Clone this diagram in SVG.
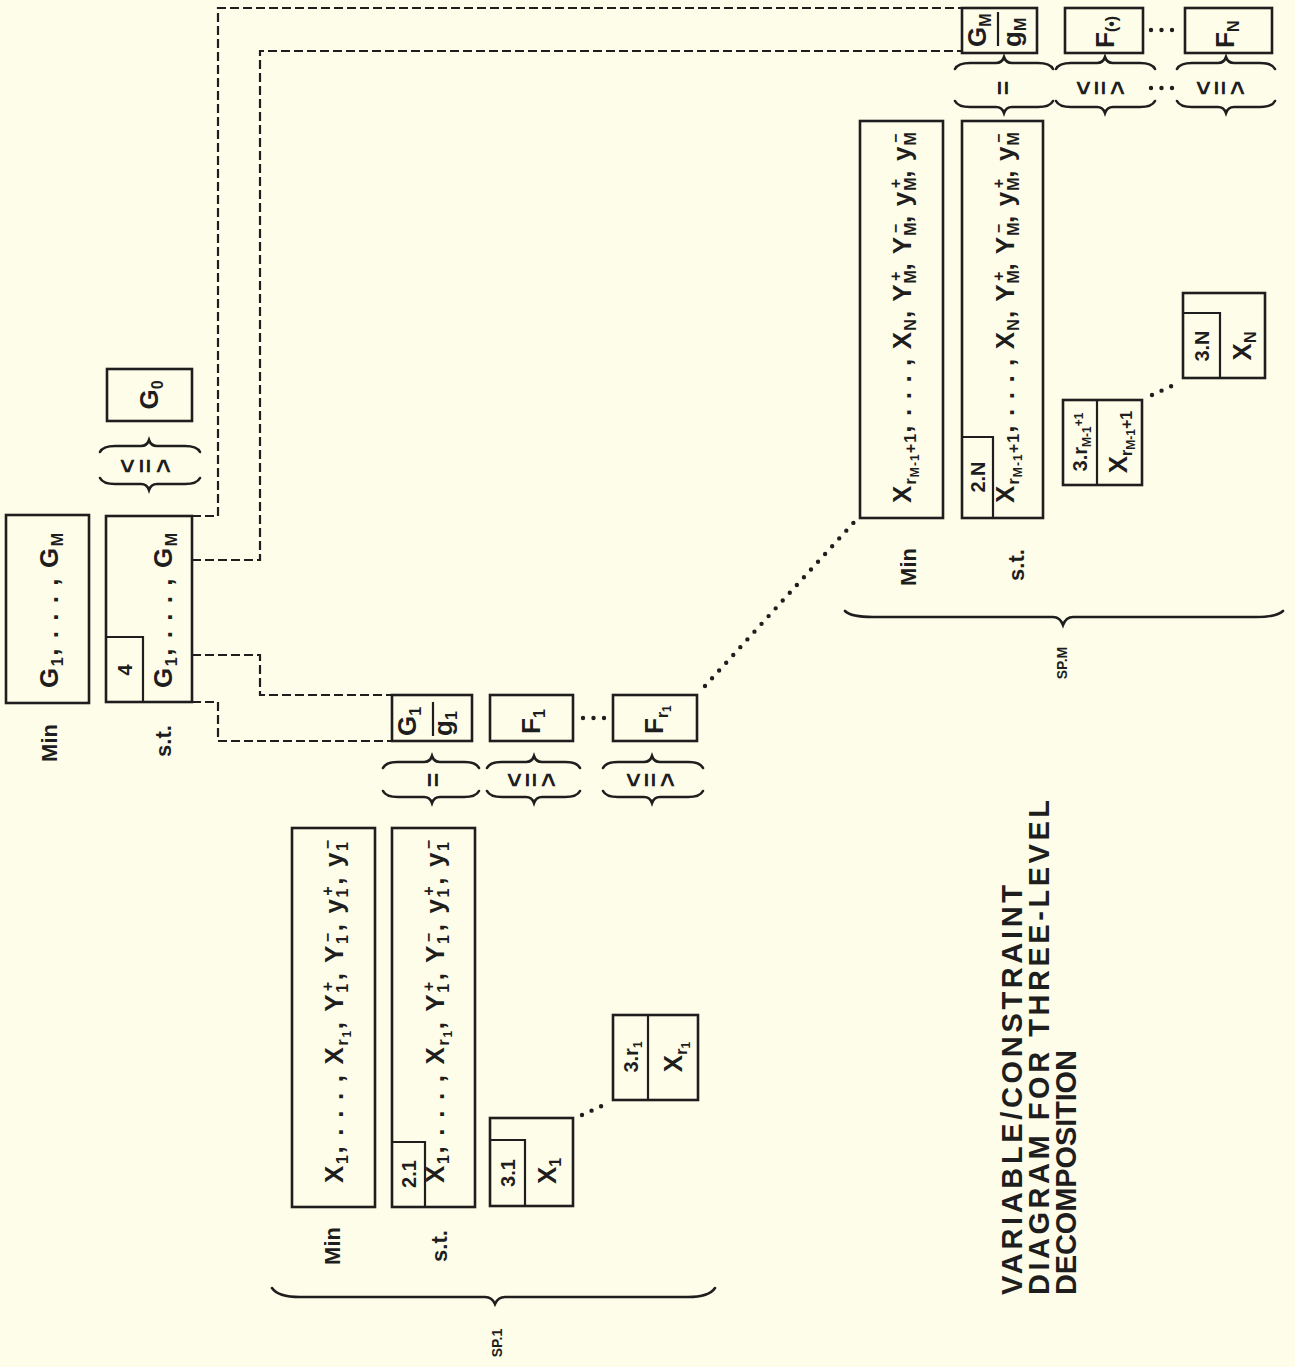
<svg xmlns="http://www.w3.org/2000/svg" width="1295" height="1367" viewBox="0 0 1295 1367">
<style>
.bx{fill:none;stroke:#1e1e1e;stroke-width:2.6}
.ln{fill:none;stroke:#1e1e1e;stroke-width:2.2}
.br{fill:none;stroke:#1e1e1e;stroke-width:2.6;stroke-linecap:round}
.dash{fill:none;stroke:#1e1e1e;stroke-width:2.2;stroke-dasharray:9 4}
.dot{fill:none;stroke:#1e1e1e;stroke-width:4.4;stroke-linecap:round;stroke-dasharray:0 10.5}
.t{font-family:"Liberation Sans",Arial,sans-serif;font-weight:bold;fill:#1e1e1e}
.v{font-size:26px}
.s{font-size:16px}
.ss{font-size:12px}
.lab{font-size:20px}
.kw{font-size:22px}
.sp{font-size:14px}
.sym{font-size:25px}
.title{font-size:29px}
</style>
<rect width="1295" height="1367" fill="#fefde9"/>

<g id="connectors">
<path class="dash" d="M192,516 H218 V8 H962"/>
<path class="dash" d="M192,560 H260 V51 H962"/>
<path class="dash" d="M192,655 H260 V695 H392"/>
<path class="dash" d="M192,702 H218 V741 H392"/>
<path class="dot" d="M705,686 L856,520"/>
<path class="dot" d="M582,1115 L606,1104"/>
<path class="dot" d="M1152,395 L1176,384"/>
<path class="dot" d="M583,718 L608,718"/>
<path class="dot" d="M1151,30 L1177,30"/>
<path class="dot" d="M1151,88 L1173,88"/>
</g>

<g id="master-min">
<rect class="bx" x="6" y="515" width="83" height="188"/>
<text class="t v" transform="translate(58,688) rotate(-90)" textLength="155">G<tspan class="s" dy="5">1</tspan><tspan dy="-5">, . . . , G</tspan><tspan class="s" dy="5">M</tspan></text>
<text class="t kw" transform="translate(57,743) rotate(-90)" text-anchor="middle">Min</text>
</g>

<g id="master-st">
<rect class="bx" x="106" y="516" width="86" height="186"/>
<path class="ln" d="M106,637 H143 V702"/>
<text class="t lab" transform="translate(132,670) rotate(-90)" text-anchor="middle">4</text>
<text class="t v" transform="translate(172,688) rotate(-90)" textLength="155">G<tspan class="s" dy="5">1</tspan><tspan dy="-5">, . . . , G</tspan><tspan class="s" dy="5">M</tspan></text>
<text class="t kw" transform="translate(171,741) rotate(-90)" text-anchor="middle">s.t.</text>
</g>

<g id="G0">
<rect class="bx" x="107" y="369" width="85" height="52"/>
<text class="t v" transform="translate(158,395) rotate(-90)" text-anchor="middle">G<tspan class="s" dy="5">0</tspan></text>
<path class="br" d="M100,452 Q103,446 115,446 L141,446 Q147,446 149,440 Q151,446 157,446 L185,446 Q197,446 200,452"/>
<text class="t sym" transform="translate(136,466) rotate(-90)" text-anchor="middle"><tspan x="0" y="0">&lt;</tspan><tspan x="0" y="18">=</tspan><tspan x="0" y="36">&gt;</tspan></text>
<path class="br" d="M100,478 Q103,484 115,484 L141,484 Q147,484 149,490 Q151,484 157,484 L185,484 Q197,484 200,478"/>
</g>

<g id="G1g1">
<rect class="bx" x="392" y="695" width="80" height="46"/>
<text class="t v" transform="translate(416,736) rotate(-90)">G<tspan class="s" dy="5">1</tspan></text>
<path class="ln" d="M433,702 V736"/>
<text class="t v" transform="translate(452,736) rotate(-90)">g<tspan class="s" dy="5">1</tspan></text>
<path class="br" d="M383,768 Q386,762 398,762 L424,762 Q430,762 432,756 Q434,762 440,762 L464,762 Q476,762 479,768"/>
<text class="t sym" transform="translate(442,780) rotate(-90)" text-anchor="middle">=</text>
<path class="br" d="M383,791 Q386,797 398,797 L424,797 Q430,797 432,803 Q434,797 440,797 L464,797 Q476,797 479,791"/>
</g>

<g id="F1">
<rect class="bx" x="490" y="695" width="83" height="46"/>
<text class="t v" transform="translate(540,734) rotate(-90)">F<tspan class="s" dy="5">1</tspan></text>
<path class="br" d="M487,768 Q490,762 502,762 L526,762 Q532,762 534,756 Q536,762 542,762 L565,762 Q577,762 580,768"/>
<text class="t sym" transform="translate(523,780) rotate(-90)" text-anchor="middle"><tspan x="0" y="0">&lt;</tspan><tspan x="0" y="17">=</tspan><tspan x="0" y="34">&gt;</tspan></text>
<path class="br" d="M487,791 Q490,797 502,797 L526,797 Q532,797 534,803 Q536,797 542,797 L565,797 Q577,797 580,791"/>
</g>

<g id="Fr1">
<rect class="bx" x="613" y="695" width="84" height="46"/>
<text class="t v" transform="translate(663,734) rotate(-90)">F<tspan class="s" dy="5">r</tspan><tspan class="ss" dy="3">1</tspan></text>
<path class="br" d="M603,768 Q606,762 618,762 L644,762 Q650,762 652,756 Q654,762 660,762 L688,762 Q700,762 703,768"/>
<text class="t sym" transform="translate(642,780) rotate(-90)" text-anchor="middle"><tspan x="0" y="0">&lt;</tspan><tspan x="0" y="17">=</tspan><tspan x="0" y="34">&gt;</tspan></text>
<path class="br" d="M603,791 Q606,797 618,797 L644,797 Q650,797 652,803 Q654,797 660,797 L688,797 Q700,797 703,791"/>
</g>

<g id="GMgM">
<rect class="bx" x="962" y="8" width="75" height="45"/>
<text class="t v" transform="translate(986,47) rotate(-90)">G<tspan class="s" dy="5">M</tspan></text>
<path class="ln" d="M998,12 V46"/>
<text class="t v" transform="translate(1021,47) rotate(-90)">g<tspan class="s" dy="5">M</tspan></text>
<path class="br" d="M955,69 Q958,63 970,63 L996,63 Q1002,63 1004,57 Q1006,63 1012,63 L1038,63 Q1050,63 1053,69"/>
<text class="t sym" transform="translate(1012,88) rotate(-90)" text-anchor="middle">=</text>
<path class="br" d="M955,101 Q958,107 970,107 L996,107 Q1002,107 1004,113 Q1006,107 1012,107 L1038,107 Q1050,107 1053,101"/>
</g>

<g id="Fdot">
<rect class="bx" x="1065" y="8" width="78" height="45"/>
<text class="t v" transform="translate(1114,48) rotate(-90)">F<tspan class="s" dy="3">(•)</tspan></text>
<path class="br" d="M1056,69 Q1059,63 1071,63 L1097,63 Q1103,63 1105,57 Q1107,63 1113,63 L1140,63 Q1152,63 1155,69"/>
<text class="t sym" transform="translate(1092,88) rotate(-90)" text-anchor="middle"><tspan x="0" y="0">&lt;</tspan><tspan x="0" y="17">=</tspan><tspan x="0" y="34">&gt;</tspan></text>
<path class="br" d="M1056,101 Q1059,107 1071,107 L1097,107 Q1103,107 1105,113 Q1107,107 1113,107 L1140,107 Q1152,107 1155,101"/>
</g>

<g id="FN">
<rect class="bx" x="1185" y="8" width="87" height="45"/>
<text class="t v" transform="translate(1234,48) rotate(-90)">F<tspan class="s" dy="5">N</tspan></text>
<path class="br" d="M1177,69 Q1180,63 1192,63 L1218,63 Q1224,63 1226,57 Q1228,63 1234,63 L1260,63 Q1272,63 1275,69"/>
<text class="t sym" transform="translate(1212,88) rotate(-90)" text-anchor="middle"><tspan x="0" y="0">&lt;</tspan><tspan x="0" y="17">=</tspan><tspan x="0" y="34">&gt;</tspan></text>
<path class="br" d="M1177,101 Q1180,107 1192,107 L1218,107 Q1224,107 1226,113 Q1228,107 1234,107 L1260,107 Q1272,107 1275,101"/>
</g>

<g id="sp1-min">
<rect class="bx" x="292" y="828" width="83" height="379"/>
<text class="t v" transform="translate(343,1183) rotate(-90)" textLength="343">X<tspan class="s" dy="5">1</tspan><tspan dy="-5">, . . . , X</tspan><tspan class="s" dy="5">r</tspan><tspan class="ss" dy="3">1</tspan><tspan dy="-8">, Y</tspan><tspan class="s" dy="5">1</tspan><tspan class="s" dx="-9" dy="-15">+</tspan><tspan dy="10">, Y</tspan><tspan class="s" dy="5">1</tspan><tspan class="s" dx="-9" dy="-15">−</tspan><tspan dy="10">, y</tspan><tspan class="s" dy="5">1</tspan><tspan class="s" dx="-9" dy="-15">+</tspan><tspan dy="10">, y</tspan><tspan class="s" dy="5">1</tspan><tspan class="s" dx="-9" dy="-15">−</tspan></text>
<text class="t kw" transform="translate(340,1246) rotate(-90)" text-anchor="middle">Min</text>
</g>

<g id="sp1-st">
<rect class="bx" x="392" y="828" width="83" height="379"/>
<path class="ln" d="M392,1142 H425 V1207"/>
<text class="t lab" transform="translate(416,1174) rotate(-90)" text-anchor="middle">2.1</text>
<text class="t v" transform="translate(444,1183) rotate(-90)" textLength="343">X<tspan class="s" dy="5">1</tspan><tspan dy="-5">, . . . , X</tspan><tspan class="s" dy="5">r</tspan><tspan class="ss" dy="3">1</tspan><tspan dy="-8">, Y</tspan><tspan class="s" dy="5">1</tspan><tspan class="s" dx="-9" dy="-15">+</tspan><tspan dy="10">, Y</tspan><tspan class="s" dy="5">1</tspan><tspan class="s" dx="-9" dy="-15">−</tspan><tspan dy="10">, y</tspan><tspan class="s" dy="5">1</tspan><tspan class="s" dx="-9" dy="-15">+</tspan><tspan dy="10">, y</tspan><tspan class="s" dy="5">1</tspan><tspan class="s" dx="-9" dy="-15">−</tspan></text>
<text class="t kw" transform="translate(447,1246) rotate(-90)" text-anchor="middle">s.t.</text>
</g>

<g id="sp1-31">
<rect class="bx" x="490" y="1118" width="83" height="88"/>
<path class="ln" d="M490,1140 H525 V1206"/>
<text class="t lab" transform="translate(515,1173) rotate(-90)" text-anchor="middle">3.1</text>
<text class="t v" transform="translate(556,1184) rotate(-90)">X<tspan class="s" dy="5">1</tspan></text>
</g>

<g id="sp1-3r1">
<rect class="bx" x="613" y="1015" width="85" height="85"/>
<path class="ln" d="M648,1015 V1100"/>
<text class="t lab" transform="translate(638,1057) rotate(-90)" text-anchor="middle">3.r<tspan class="ss" dy="4">1</tspan></text>
<text class="t v" transform="translate(682,1057) rotate(-90)" text-anchor="middle">X<tspan class="s" dy="5">r</tspan><tspan class="ss" dy="3">1</tspan></text>
</g>

<g id="sp1-label">
<path class="br" d="M272,1288 Q278,1297 300,1297 L485,1297 Q492,1297 495,1304 Q498,1297 505,1297 L688,1297 Q709,1297 715,1288"/>
<text class="t sp" transform="translate(502,1343) rotate(-90)" text-anchor="middle">SP.1</text>
</g>

<g id="spM-min">
<rect class="bx" x="860" y="121" width="83" height="397"/>
<text class="t v" transform="translate(911,503) rotate(-90)" textLength="372">X<tspan class="s" dy="5">r</tspan><tspan class="ss" dy="3">M-1</tspan><tspan class="s" dy="-3">+1</tspan><tspan dy="-5">, . . . , X</tspan><tspan class="s" dy="5">N</tspan><tspan dy="-5">, Y</tspan><tspan class="s" dy="5">M</tspan><tspan class="s" dx="-12" dy="-15">+</tspan><tspan dy="10">, Y</tspan><tspan class="s" dy="5">M</tspan><tspan class="s" dx="-12" dy="-15">−</tspan><tspan dy="10">, y</tspan><tspan class="s" dy="5">M</tspan><tspan class="s" dx="-12" dy="-15">+</tspan><tspan dy="10">, y</tspan><tspan class="s" dy="5">M</tspan><tspan class="s" dx="-12" dy="-15">−</tspan></text>
<text class="t kw" transform="translate(916,567) rotate(-90)" text-anchor="middle">Min</text>
</g>

<g id="spM-st">
<rect class="bx" x="962" y="121" width="81" height="397"/>
<path class="ln" d="M962,437 H993 V518"/>
<text class="t lab" transform="translate(985,477) rotate(-90)" text-anchor="middle">2.N</text>
<text class="t v" transform="translate(1014,503) rotate(-90)" textLength="372">X<tspan class="s" dy="5">r</tspan><tspan class="ss" dy="3">M-1</tspan><tspan class="s" dy="-3">+1</tspan><tspan dy="-5">, . . . , X</tspan><tspan class="s" dy="5">N</tspan><tspan dy="-5">, Y</tspan><tspan class="s" dy="5">M</tspan><tspan class="s" dx="-12" dy="-15">+</tspan><tspan dy="10">, Y</tspan><tspan class="s" dy="5">M</tspan><tspan class="s" dx="-12" dy="-15">−</tspan><tspan dy="10">, y</tspan><tspan class="s" dy="5">M</tspan><tspan class="s" dx="-12" dy="-15">+</tspan><tspan dy="10">, y</tspan><tspan class="s" dy="5">M</tspan><tspan class="s" dx="-12" dy="-15">−</tspan></text>
<text class="t kw" transform="translate(1024,565) rotate(-90)" text-anchor="middle">s.t.</text>
</g>

<g id="spM-3r">
<rect class="bx" x="1063" y="400" width="79" height="85"/>
<path class="ln" d="M1097,400 V485"/>
<text class="t lab" transform="translate(1087,442) rotate(-90)" text-anchor="middle" font-size="18">3.r<tspan class="ss" dy="4">M-1</tspan><tspan class="ss" dy="-8">+1</tspan></text>
<text class="t v" transform="translate(1127,442) rotate(-90)" text-anchor="middle">X<tspan class="s" dy="5">r</tspan><tspan class="ss" dy="3">M-1</tspan><tspan class="s" dy="-3">+1</tspan></text>
</g>

<g id="spM-3N">
<rect class="bx" x="1183" y="293" width="82" height="85"/>
<path class="ln" d="M1183,313 H1220 V378"/>
<text class="t lab" transform="translate(1209,346) rotate(-90)" text-anchor="middle">3.N</text>
<text class="t v" transform="translate(1251,346) rotate(-90)" text-anchor="middle">X<tspan class="s" dy="5">N</tspan></text>
</g>

<g id="spM-label">
<path class="br" d="M845,611 Q851,617 873,617 L1053,617 Q1060,617 1063,625 Q1066,617 1073,617 L1256,617 Q1277,617 1283,611"/>
<text class="t sp" transform="translate(1067,663) rotate(-90)" text-anchor="middle">SP.M</text>
</g>

<g id="title">
<text class="t title" transform="translate(1022,1295) rotate(-90)" textLength="410" lengthAdjust="spacing">VARIABLE/CONSTRAINT</text>
<text class="t title" transform="translate(1049,1295) rotate(-90)" textLength="495" lengthAdjust="spacing">DIAGRAM FOR THREE-LEVEL</text>
<text class="t title" transform="translate(1076,1295) rotate(-90)" textLength="245" lengthAdjust="spacing">DECOMPOSITION</text>
</g>
</svg>
